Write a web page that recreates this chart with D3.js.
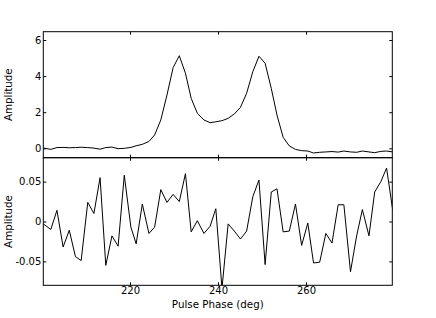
<!DOCTYPE html>
<html>
<head>
<meta charset="utf-8">
<script src="https://cdn.jsdelivr.net/npm/d3@7"></script>
<style>
    body { margin: 0; background: #fff; }
    text { font-family: "DejaVu Sans", sans-serif; }
</style>
</head>
<body>
<svg id="drawing_region"></svg>
<script>
// pulse phase of each bin (deg)
var phase = [
    200.3, 202.0, 203.4, 204.8, 206.2, 207.6, 208.9, 210.4, 211.8, 213.2,
    214.5, 215.9, 217.3, 218.7, 220.2, 221.4, 222.8, 224.3, 225.6, 227.0,
    228.4, 229.8, 231.2, 232.6, 233.9, 235.3, 236.8, 238.2, 239.5, 240.9,
    242.3, 243.7, 245.1, 246.5, 247.9, 249.3, 250.7, 252.1, 253.4, 254.8,
    256.2, 257.6, 259.0, 260.4, 261.7, 263.1, 264.5, 265.9, 267.3, 268.6,
    270.1, 271.5, 272.8, 274.3, 275.6, 277.0, 278.3, 279.7
];

// top panel: pulse profile
var profile = [
    0.02, -0.06, 0.04, 0.05, 0.03, 0.04, 0.06, 0.04, 0.01, -0.05,
    0.04, 0.07, -0.02, 0.00, 0.05, 0.14, 0.22, 0.38, 0.74, 1.57,
    2.95, 4.47, 5.13, 4.16, 2.77, 1.94, 1.57, 1.42, 1.47, 1.53,
    1.66, 1.90, 2.27, 3.05, 4.24, 5.10, 4.71, 3.32, 1.84, 0.61,
    0.13, -0.06, -0.13, -0.15, -0.26, -0.22, -0.20, -0.18, -0.21, -0.15,
    -0.20, -0.22, -0.15, -0.20, -0.24, -0.17, -0.15, -0.20
];

// bottom panel: residuals
var residual = [
    -0.003, -0.010, 0.014, -0.032, -0.011, -0.044, -0.049, 0.024, 0.010, 0.055,
    -0.055, -0.018, -0.031, 0.058, -0.007, -0.028, 0.022, -0.015, -0.007, 0.040,
    0.024, 0.034, 0.025, 0.060, -0.013, 0.001, -0.015, -0.006, 0.016, -0.084,
    -0.003, -0.012, -0.022, -0.012, 0.031, 0.052, -0.054, 0.037, 0.041, -0.013,
    -0.012, 0.022, -0.030, -0.002, -0.052, -0.051, -0.015, -0.027, 0.021, 0.021,
    -0.063, -0.018, 0.015, -0.018, 0.037, 0.050, 0.067, 0.014
];

var xticks = [220, 240, 260];
var profile_ticks = [0, 2, 4, 6];
var residual_ticks = [-0.05, 0, 0.05];

var x_domain = [200.3, 279.6];
var profile_domain = [-0.52, 6.46];
var residual_domain = [-0.08, 0.08];

class LinePanel {
    constructor( config, values ) {
        this.config = config;
        this.values = values;
        this.init();
    }

    init() {
        let self = this;
        let c = self.config;

        self.xscale = d3.scaleLinear()
            .domain( x_domain )
            .range( [c.left, c.right] );

        self.yscale = d3.scaleLinear()
            .domain( c.ydomain )
            .range( [c.bottom, c.top] );

        self.g = c.svg.append('g');

        self.g.append('clipPath')
            .attr('id', c.id + '_clip')
            .append('rect')
            .attr('x', c.left)
            .attr('y', c.top)
            .attr('width', c.right - c.left)
            .attr('height', c.bottom - c.top);
    }

    render() {
        let self = this;
        let c = self.config;
        const tick = 3;

        // inward ticks on all four sides
        let left = d3.axisLeft( self.yscale )
            .tickValues( c.yticks )
            .tickSize( -tick )
            .tickPadding( 2 )
            .tickFormat( d => String(d) );
        let right = d3.axisRight( self.yscale )
            .tickValues( c.yticks )
            .tickSize( -tick )
            .tickFormat( '' );
        let top = d3.axisTop( self.xscale )
            .tickValues( xticks )
            .tickSize( -tick )
            .tickFormat( '' );
        let bottom = d3.axisBottom( self.xscale )
            .tickValues( xticks )
            .tickSize( -tick )
            .tickPadding( 2 )
            .tickFormat( c.xlabels ? d => String(d) : '' );

        self.g.append('g').attr('transform', `translate(${c.left},0)`).call( left );
        self.g.append('g').attr('transform', `translate(${c.right},0)`).call( right );
        self.g.append('g').attr('transform', `translate(0,${c.top})`).call( top );
        self.g.append('g').attr('transform', `translate(0,${c.bottom})`).call( bottom );

        self.g.selectAll('.domain').remove();
        self.g.selectAll('.tick line').attr('stroke', '#000');
        self.g.selectAll('.tick text')
            .attr('fill', '#000')
            .style('font-size', '10px')
            .style('font-family', '"DejaVu Sans", sans-serif');

        let line = d3.line()
            .x( (d, i) => self.xscale(phase[i]) )
            .y( d => self.yscale(d) );

        self.g.append('path')
            .datum( self.values )
            .attr('clip-path', `url(#${c.id}_clip)`)
            .attr('fill', 'none')
            .attr('stroke', '#000')
            .attr('stroke-width', 1)
            .attr('stroke-linejoin', 'miter')
            .attr('d', line);

        self.g.append('rect')
            .attr('x', c.left)
            .attr('y', c.top)
            .attr('width', c.right - c.left)
            .attr('height', c.bottom - c.top)
            .attr('fill', 'none')
            .attr('stroke', '#000')
            .attr('stroke-width', 1);

        self.g.append('text')
            .attr('transform', `translate(12,${(c.top + c.bottom) / 2}) rotate(-90)`)
            .attr('text-anchor', 'middle')
            .attr('fill', '#000')
            .style('font-size', '10.3px')
            .text('Amplitude');
    }
}

var svg = d3.select('#drawing_region')
    .attr('width', 436)
    .attr('height', 318);

var top_panel = new LinePanel({
    svg: svg, id: 'top',
    left: 43.3, right: 392.3, top: 31.7, bottom: 157.7,
    ydomain: profile_domain, yticks: profile_ticks, xlabels: false
}, profile);
top_panel.render();

var bottom_panel = new LinePanel({
    svg: svg, id: 'bottom',
    left: 43.3, right: 392.3, top: 157.7, bottom: 285.3,
    ydomain: residual_domain, yticks: residual_ticks, xlabels: true
}, residual);
bottom_panel.render();

svg.append('text')
    .attr('x', (43.3 + 392.3) / 2)
    .attr('y', 307.5)
    .attr('text-anchor', 'middle')
    .attr('fill', '#000')
    .style('font-size', '10.3px')
    .text('Pulse Phase (deg)');
</script>
</body>
</html>
